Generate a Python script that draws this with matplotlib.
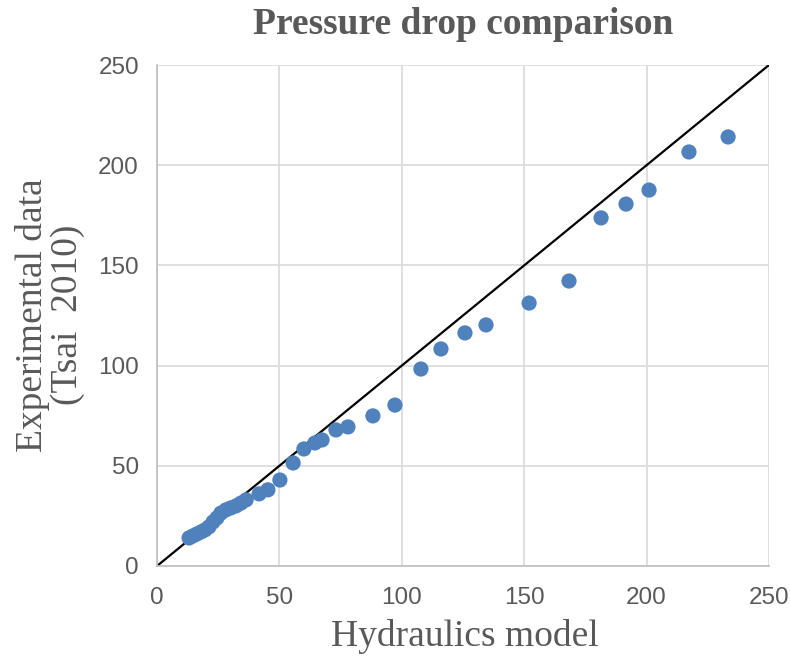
import matplotlib
matplotlib.use("Agg")
import matplotlib.pyplot as plt
import numpy as np

# Data
model = [13.1, 14.7, 16.3, 18.0, 19.6, 21.2, 22.9, 24.5, 26.1, 28.2, 30.2, 32.3, 34.3, 36.4,
         41.7, 45.3, 50.2, 55.6, 60.0, 64.5, 67.4, 73.1, 78.0, 88.2, 97.2, 107.8, 116.0,
         125.8, 134.4, 152.0, 168.3, 181.4, 191.6, 201.0, 217.3, 233.3]
experimental = [14.0, 15.0, 16.0, 17.0, 18.0, 19.5, 22.0, 24.0, 26.4, 28.0, 29.0, 30.0, 31.4, 33.0,
                36.0, 38.0, 42.9, 51.4, 58.4, 61.4, 62.9, 67.9, 69.4, 74.9, 80.3, 98.3, 108.3,
                116.3, 120.3, 131.2, 142.2, 173.7, 180.6, 187.6, 206.6, 214.1]
ref_line = [0, 250]
ticks = [0, 50, 100, 150, 200, 250]

title = "Pressure drop comparison"
xlabel = "Hydraulics model"
ylabel = "Experimental data\n(Tsai  2010)"

grey = "#595959"
fig = plt.figure(figsize=(7.9, 6.58), dpi=100)
ax = fig.add_axes([157/790, 1-566/658, (769-157)/790, (566-65)/658])

ax.plot(ref_line, ref_line, color="black", lw=1.6, zorder=2)
ax.scatter(model, experimental, s=120, color="#4F81BD", edgecolors="none", zorder=3)

ax.set_xlim(0, 250)
ax.set_ylim(0, 250)
ax.set_xticks(ticks)
ax.set_yticks(ticks)
ax.grid(True, color="#d9d9d9", lw=1.2, zorder=0)
ax.set_axisbelow(True)
for s in ["top", "right"]:
    ax.spines[s].set_visible(False)
for s in ["left", "bottom"]:
    ax.spines[s].set_color("#bfbfbf")
    ax.spines[s].set_linewidth(1.2)
ax.tick_params(length=0, labelsize=17.5, labelcolor=grey)
ax.tick_params(axis="y", pad=13)
ax.tick_params(axis="x", pad=15)
for lab in ax.get_xticklabels() + ax.get_yticklabels():
    lab.set_fontfamily("Liberation Sans")

fig.text(463/790, 1-24/658, title, ha="center", va="center", fontsize=27,
         fontweight="bold", family="Liberation Serif", color=grey)
fig.text(465/790, 1-636/658, xlabel, ha="center", va="center", fontsize=27,
         family="Liberation Serif", color=grey)
fig.text(50/790, 1-315/658, ylabel, ha="center", va="center", fontsize=27,
         family="Liberation Serif", color=grey, rotation=90, linespacing=1.05)

fig.savefig("out.png", dpi=100)
